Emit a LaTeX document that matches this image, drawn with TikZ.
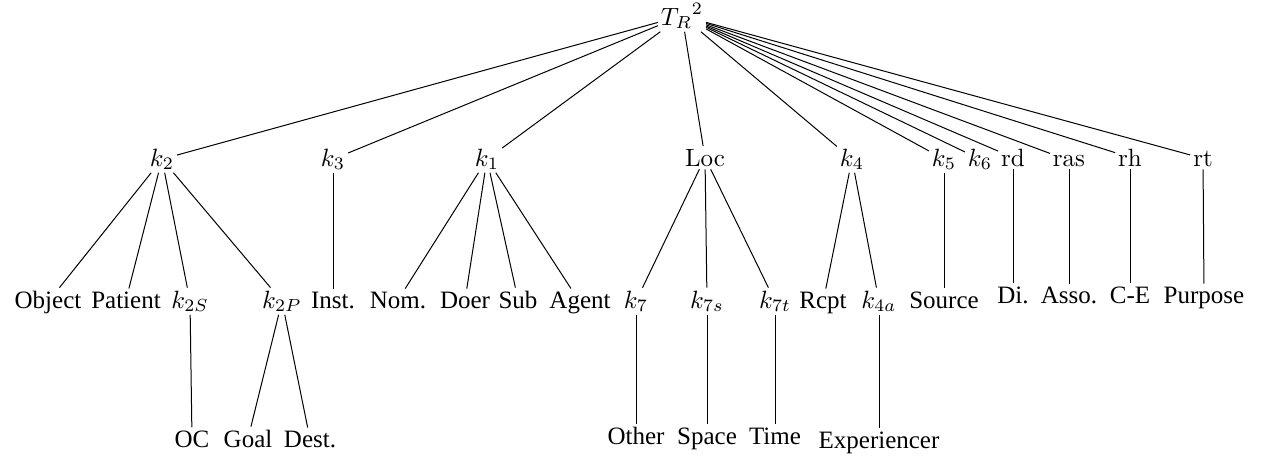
\documentclass[tikz,border=0pt]{standalone}
\usepackage{fontspec}
\newfontfamily\tnr{Liberation Serif}
\begin{document}
\begin{tikzpicture}[x=0.4pt,y=-0.4pt,
  nd/.style={anchor=base,inner sep=1pt,font=\fontsize{10}{12}\selectfont},
  lf/.style={nd,font=\fontsize{10}{12}\selectfont\tnr},
  edge/.style={draw=black,line width=0.4pt}]
\useasboundingbox (0,0) rectangle (1263,460);
% root
\node[nd] (root) at (682,25) {${T_R}^2$};
% level 1
\node[nd] (k2) at (162,166) {$k_2$};
\node[nd] (k3) at (333,166) {$k_3$};
\node[nd] (k1) at (487,166) {$k_1$};
\node[nd] (loc) at (705,166) {Loc};
\node[nd] (k4) at (852,166) {$k_4$};
\node[nd] (k5) at (944,166) {$k_5$};
\node[nd] (k6) at (980,166) {$k_6$};
\node[nd] (rd) at (1013,166) {rd};
\node[nd] (ras) at (1069,166) {ras};
\node[nd] (rh) at (1130,166) {rh};
\node[nd] (rt) at (1203,166) {rt};
% level 2
\node[lf] (obj) at (48,308) {Object};
\node[lf] (pat) at (126,308) {Patient};
\node[nd] (k2s) at (190,308) {$k_{2S}$};
\node[nd] (k2p) at (282,308) {$k_{2P}$};
\node[lf] (inst) at (333,308) {Inst.};
\node[lf] (nom) at (398,308) {Nom.};
\node[lf] (doer) at (465,308) {Doer};
\node[lf] (sub) at (518,308) {Sub};
\node[lf] (agent) at (580,308) {Agent};
\node[nd] (k7) at (636,308) {$k_7$};
\node[nd] (k7s) at (707,308) {$k_{7s}$};
\node[nd] (k7t) at (775,308) {$k_{7t}$};
\node[lf] (rcpt) at (823,308) {Rcpt};
\node[nd] (k4a) at (879,308) {$k_{4a}$};
\node[lf] (source) at (944,308) {Source};
\node[lf] (di) at (1013,303) {Di.};
\node[lf] (asso) at (1069,303) {Asso.};
\node[lf] (ce) at (1130,303) {C-E};
\node[lf] (purpose) at (1204,303) {Purpose};
% level 3
\node[lf] (oc) at (192,447) {OC};
\node[lf] (goal) at (248,447) {Goal};
\node[lf] (dest) at (310,447) {Dest.};
\node[lf] (other) at (636,444) {Other};
\node[lf] (space) at (707,444) {Space};
\node[lf] (time) at (775,444) {Time};
\node[lf] (exp) at (879,448) {Experiencer};
% edges
\foreach \c in {k2,k3,k1,loc,k4,k5,k6,rd,ras,rh,rt} \draw[edge] (root) -- (\c);
\foreach \c in {obj,pat,k2s,k2p} \draw[edge] (k2) -- (\c);
\draw[edge] (k3) -- (inst);
\foreach \c in {nom,doer,sub,agent} \draw[edge] (k1) -- (\c);
\foreach \c in {k7,k7s,k7t} \draw[edge] (loc) -- (\c);
\foreach \c in {rcpt,k4a} \draw[edge] (k4) -- (\c);
\draw[edge] (k5) -- (source);
\draw[edge] (rd) -- (di);
\draw[edge] (ras) -- (asso);
\draw[edge] (rh) -- (ce);
\draw[edge] (rt) -- (purpose);
\draw[edge] (k2s) -- (oc);
\foreach \c in {goal,dest} \draw[edge] (k2p) -- (\c);
\draw[edge] (k7) -- (other);
\draw[edge] (k7s) -- (space);
\draw[edge] (k7t) -- (time);
\draw[edge] (k4a) -- (exp);
\end{tikzpicture}
\end{document}
